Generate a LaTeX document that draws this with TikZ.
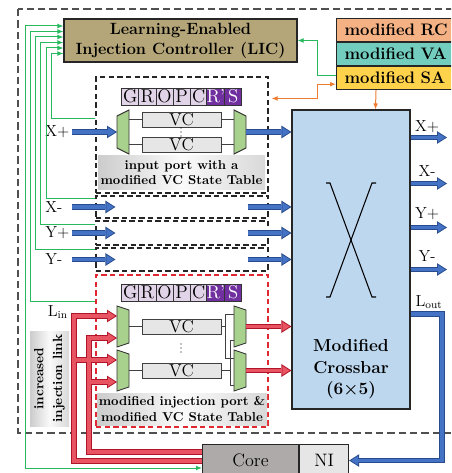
\documentclass[tikz,border=0pt]{standalone}
\usetikzlibrary{arrows.meta,calc}
\definecolor{licc}{RGB}{181,166,121}
\definecolor{rcc}{RGB}{244,177,131}
\definecolor{vac}{RGB}{114,205,190}
\definecolor{sac}{RGB}{255,210,76}
\definecolor{xbc}{RGB}{189,215,238}
\definecolor{lav}{RGB}{226,212,232}
\definecolor{purp}{RGB}{112,48,160}
\definecolor{muxg}{RGB}{169,209,142}
\definecolor{vcg}{RGB}{230,230,230}
\definecolor{lnk}{RGB}{40,185,95}
\definecolor{org}{RGB}{237,125,49}
\definecolor{bl}{RGB}{68,114,196}
\definecolor{bld}{RGB}{40,75,140}
\definecolor{rd}{RGB}{232,84,98}
\definecolor{rdd}{RGB}{176,20,40}
\definecolor{coreg}{RGB}{174,170,170}
\definecolor{nig}{RGB}{231,230,230}
\definecolor{dashc}{RGB}{80,80,80}
\definecolor{redd}{RGB}{224,40,50}
\newcommand\px[1]{#1*0.75pt}
\newcommand\fLIC{\fontsize{12.2}{15}\selectfont\bfseries}
\newcommand\fMod{\fontsize{12.5}{14}\selectfont\bfseries}
\newcommand\fXb{\fontsize{13}{16.1}\selectfont\bfseries}
\newcommand\fLab{\fontsize{9.7}{11.3}\selectfont\bfseries}
\newcommand\fInc{\fontsize{10}{14}\selectfont\bfseries}
\newcommand\fVC{\fontsize{13}{14}\selectfont}
\newcommand\fCell{\fontsize{14}{14}\selectfont}
\newcommand\fPort{\fontsize{12}{13}\selectfont}
\newcommand\fCore{\fontsize{13.5}{15}\selectfont}
\newcommand\fatb[1]{\draw[bO] #1; \draw[bI] #1;}
\newcommand\fatr[1]{\draw[rO] #1; \draw[rI] #1;}
\begin{document}
\begin{tikzpicture}[x=0.75pt,y=-0.75pt,line join=miter,
  box/.style={draw=black!85,line width=0.8pt,inner sep=0pt,align=center},
  portbox/.style={draw=black!85,line width=0.8pt,dash pattern=on 4pt off 2.5pt,inner sep=0pt},
  injbox/.style={draw=redd,line width=0.8pt,dash pattern=on 4pt off 2.5pt,inner sep=0pt},
  outerd/.style={draw=dashc,line width=0.9pt,dash pattern=on 5.5pt off 3pt},
  lbl/.style={inner sep=0pt,align=center,font=\fLab,left color=gray!40,right color=gray!30,middle color=gray!4},
  lcell/.style={draw=black!80,line width=0.6pt,fill=lav,minimum width=\px{17.14},minimum height=\px{17},inner sep=0pt,font=\fCell},
  pcell/.style={lcell,fill=purp,text=white},
  vc/.style={draw=black!75,line width=0.7pt,fill=vcg,minimum width=\px{79},minimum height=\px{15},inner sep=0pt,font=\fVC},
  mux/.style={draw=black!80,line width=0.7pt,fill=muxg},
  wire/.style={draw=black!75,line width=0.7pt},
  plab/.style={inner sep=0pt,font=\fPort},
  grn/.style={draw=lnk,line width=0.75pt},
  gtip/.style={-{Latex[length=4.5pt,width=3.6pt]}},
  gtip2/.style={{Latex[length=4.5pt,width=3.6pt]}-{Latex[length=4.5pt,width=3.6pt]}},
  orng/.style={draw=org,line width=0.75pt},
  bO/.style={draw=bld,line width=4.2pt,-{Triangle[length=7.5pt,width=9.5pt,line width=0pt]}},
  bI/.style={draw=bl,line width=2.8pt,shorten >=1.31pt,-{Triangle[length=5.5pt,width=6.95pt,line width=0pt]}},
  rO/.style={draw=rdd,line width=4.2pt,-{Triangle[length=7.5pt,width=9.5pt,line width=0pt]}},
  rI/.style={draw=rd,line width=2.8pt,shorten >=1.31pt,-{Triangle[length=5.5pt,width=6.95pt,line width=0pt]}},
  ]
\useasboundingbox (0,0) rectangle (451,473);
\clip (0,0) rectangle (451,473);

% outer dashed frame
\draw[outerd] (18,9) rectangle (520,433);

% LIC
\node[box,fill=licc,minimum width=\px{233},minimum height=\px{43},font=\fLIC] (lic) at (180.5,40.5) {Learning-Enabled\\Injection Controller (LIC)};

% RC / VA / SA stack
\node[box,fill=rcc,anchor=north west,minimum height=\px{23},text width=\px{150},inner xsep=\px{8},align=left,font=\fMod] (rc) at (336,18) {modified RC};
\node[box,fill=vac,anchor=north west,minimum height=\px{23},text width=\px{150},inner xsep=\px{8},align=left,font=\fMod] (va) at (rc.south west) {modified VA};
\node[box,fill=sac,anchor=north west,minimum height=\px{23},text width=\px{150},inner xsep=\px{8},align=left,font=\fMod] (sa) at (va.south west) {modified SA};

% crossbar
\node[box,fill=xbc,minimum width=\px{118},minimum height=\px{299}] (xbar) at (351,259.5) {};
\node[font=\fXb,align=center,inner sep=0pt] (xbt) at (351,369.5) {Modified\\Crossbar\\(6×5)};
\draw[line width=0.8pt] (326,183) -- (330,183) -- (372,297) -- (376,297);
\draw[line width=0.8pt] (376,183) -- (372,183) -- (330,297) -- (326,297);

% port boxes
\node[portbox,minimum width=\px{172},minimum height=\px{116}] (pXp) at (182,135) {};
\node[portbox,minimum width=\px{172},minimum height=\px{22}] (pXm) at (182,207) {};
\node[portbox,minimum width=\px{172},minimum height=\px{24}] (pYp) at (182,233) {};
\node[portbox,minimum width=\px{172},minimum height=\px{23}] (pYm) at (182,259.5) {};
\node[injbox,minimum width=\px{172},minimum height=\px{152}] (inj) at (182,351) {};

% label boxes
\node[lbl,minimum width=\px{167},minimum height=\px{34}] (lblA) at (181.5,173) {input port with a\\modified VC State Table};
\node[lbl,minimum width=\px{170},minimum height=\px{32}] (lblB) at (182,409) {modified injection port \&\\modified VC State Table};
\node[lbl,rotate=90,font=\fInc,minimum width=\px{95},minimum height=\px{39}] (incr) at (49.5,378.5) {increased\\injection link};

% state table strips
\foreach \L/\s [count=\i] in {G/lcell,R/lcell,O/lcell,P/lcell,C/lcell,R’/pcell,S/pcell} {
  \node[\s] (ta\i) at ({121.7+17.14*(\i-0.5)},96.5) {\L};
  \node[\s] (tb\i) at ({121.7+17.14*(\i-0.5)},292.5) {\L};
}

% VCs
\node[vc] (v1) at (181.5,119.5) {VC};
\node[vc] (v2) at (181.5,144.5) {VC};
\node[vc] (v3) at (181.5,326.5) {VC};
\node[vc] (v4) at (181.5,370.5) {VC};
\foreach \y in {128,132,136} \fill (181,\y) circle (0.55pt);
\foreach \y in {344,348,352} \fill (181,\y) circle (0.55pt);

% X+ port muxes and wires
\draw[mux] (117,116) -- (129,110) -- (129,154) -- (117,148) -- cycle;
\draw[mux] (234,110) -- (246,116) -- (246,148) -- (234,154) -- cycle;
\draw[wire] (v1.west -| 129,0) -- (v1.west);
\draw[wire] (v2.west -| 129,0) -- (v2.west);
\draw[wire] (v1.east) -- (v1.east -| 234,0);
\draw[wire] (v2.east) -- (v2.east -| 234,0);

% injection port muxes and wires
\draw[mux] (117,306) -- (129,310) -- (129,343) -- (117,347) -- cycle;
\draw[mux] (117,350) -- (129,354) -- (129,387) -- (117,391) -- cycle;
\draw[mux] (234,306) -- (246,310) -- (246,343) -- (234,347) -- cycle;
\draw[mux] (234,350) -- (246,354) -- (246,387) -- (234,391) -- cycle;
\draw[wire] (v3.west -| 129,0) -- (v3.west);
\draw[wire] (v4.west -| 129,0) -- (v4.west);
\draw[wire] (v3.east) -- (v3.east -| 225,0);
\draw[wire] (234,314) -- (225,314) -- (225,358) -- (234,358);
\draw[wire] (v4.east) -- (v4.east -| 230,0);
\draw[wire] (234,340) -- (230,340) -- (230,385) -- (234,385);

% port labels
\node[plab,anchor=west] (lXp) at (45,132) {X+};
\node[plab,anchor=west] (lXm) at (45,207) {X-};
\node[plab,anchor=west] (lYp) at (45,233) {Y+};
\node[plab,anchor=west] (lYm) at (45,259.5) {Y-};
\node[plab,anchor=east] (lin) at (68,312) {L\textsubscript{in}};
\node[plab] (oXpl) at (427,126.5) {X+};
\node[plab] (oXml) at (427,171.5) {X-};
\node[plab] (oYpl) at (427,213.5) {Y+};
\node[plab] (oYml) at (427,256.5) {Y-};
\node[plab] (lout) at (429,302) {L\textsubscript{out}};

\coordinate (oXp) at (447,137.5);
\coordinate (oXm) at (447,183.5);
\coordinate (oYp) at (447,227.5);
\coordinate (oYm) at (447,269.5);
\coordinate (mAin) at (117,132);
\coordinate (mBout) at (246,132);
\coordinate (m3o) at (246,326.5);
\coordinate (m4o) at (246,370.5);
\coordinate (m1a) at (117,316);
\coordinate (m1b) at (117,338);
\coordinate (m2a) at (117,360);
\coordinate (m2b) at (117,382);
\coordinate (j1) at (74,360);
\coordinate (j2) at (89,382);

% Core and NI
\node[box,fill=coreg,minimum width=\px{96},minimum height=\px{32},anchor=north west,font=\fCore] (core) at (202,444) {Core};
\node[box,fill=nig,minimum width=\px{49},minimum height=\px{32},anchor=north west,font=\fCore] (ni) at (core.north east) {NI};

% green LIC links
\draw[grn,gtip2] (core.west |- 0,468) -| ($(lic.west)+(-38,-14.5)$) -- ($(lic.west)+(0,-14.5)$);
\draw[grn,gtip] (inj.west |- 0,301) -| ($(lic.west)+(-33,-9)$) -- ($(lic.west)+(0,-9)$);
\draw[grn,gtip] (pYm.west |- 0,250) -| ($(lic.west)+(-28,-3.5)$) -- ($(lic.west)+(0,-3.5)$);
\draw[grn,gtip] (pYp.west |- 0,225) -| ($(lic.west)+(-23,2)$) -- ($(lic.west)+(0,2)$);
\draw[grn,gtip] (pXm.west |- 0,199) -| ($(lic.west)+(-17,7.5)$) -- ($(lic.west)+(0,7.5)$);
\draw[grn,gtip] (pXp.west |- 0,119) -| ($(lic.west)+(-12,13)$) -- ($(lic.west)+(0,13)$);
\draw[grn,gtip] ($(sa.west)+(0,-2.5)$) -| ($(lic.east)+(20,0)$) -- (lic.east);

% orange links
\draw[orng,{Latex[length=4.5pt,width=3.6pt]}-{Latex[length=4.5pt,width=3.6pt]}] ($(pXp.north east)+(3,22)$) -| ($(sa.south west)+(-19,-6)$) -- ($(sa.south west)+(0,-6)$);
\draw[orng,gtip] ($(sa.south west)+(40,0)$) -- ($(xbar.north west)+(84,0)$);

% blue arrows
\fatb{($(lXp.west)+(27,0)$) -- (mAin)}
\fatb{(mBout) -- (mBout -| xbar.west)}
\fatb{($(lXm.west)+(27,0)$) -- ($(pXm.west)+(20,0)$)}
\fatb{($(pXm.east)+(-21,0)$) -- (pXm.east -| xbar.west)}
\fatb{($(lYp.west)+(27,0)$) -- ($(pYp.west)+(20,0)$)}
\fatb{($(pYp.east)+(-21,0)$) -- (pYp.east -| xbar.west)}
\fatb{($(lYm.west)+(27,0)$) -- ($(pYm.west)+(20,0)$)}
\fatb{($(pYm.east)+(-21,0)$) -- (pYm.east -| xbar.west)}
\fatb{(oXp -| xbar.east) -- (oXp)}
\fatb{(oXm -| xbar.east) -- (oXm)}
\fatb{(oYp -| xbar.east) -- (oYp)}
\fatb{(oYm -| xbar.east) -- (oYm)}
\fatb{(xbar.east |- 0,314) -- (442,314) -- (ni.east -| 442,0) -- (ni.east)}

% red injection links
\draw[rO] (core.west |- 0,461) -| (m1a -| j1) -- (m1a);
\draw[rO] (j1) -- (m2a);
\draw[rO] (core.west |- 0,452) -| (m1b -| j2) -- (m1b);
\draw[rO] (j2) -- (m2b);
\draw[rI] (core.west |- 0,461) -| (m1a -| j1) -- (m1a);
\draw[rI] (j1) -- (m2a);
\draw[rI] (core.west |- 0,452) -| (m1b -| j2) -- (m1b);
\draw[rI] (j2) -- (m2b);
\fatr{(m3o) -- (m3o -| xbar.west)}
\fatr{(m4o) -- (m4o -| xbar.west)}
\end{tikzpicture}
\end{document}
